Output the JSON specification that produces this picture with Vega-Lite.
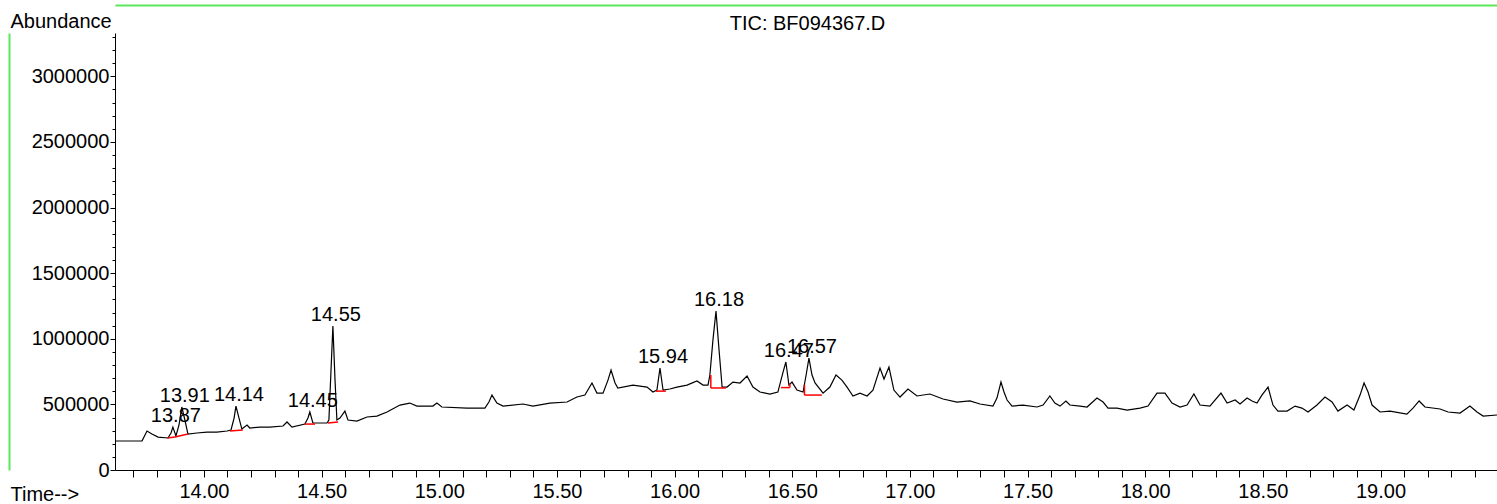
{
  "$schema": "https://vega.github.io/schema/vega-lite/v6.json",
  "width": 1382,
  "height": 437,
  "autosize": {"type": "none"},
  "padding": {"left": 115, "top": 33, "right": 0, "bottom": 34},
  "background": "white",
  "config": {
    "view": {"stroke": null},
    "axis": {"labelFont": "Liberation Sans", "labelFontSize": 20, "labelColor": "black", "titleFont": "Liberation Sans", "titleFontSize": 20, "titleFontWeight": "normal", "titleColor": "black", "domainColor": "black", "tickColor": "black", "grid": false, "labelOverlap": false, "labelFlush": false}
  },
  "datasets": {
    "trace": [
      {"t":13.622,"a":221000},{"t":13.686,"a":221000},{"t":13.737,"a":222000},{"t":13.758,"a":297000},{"t":13.779,"a":274000},{"t":13.805,"a":251000},{"t":13.847,"a":244000},{"t":13.860,"a":282000},{"t":13.868,"a":327000},{"t":13.881,"a":259000},{"t":13.894,"a":343000},{"t":13.906,"a":480000},{"t":13.919,"a":381000},{"t":13.932,"a":274000},{"t":13.970,"a":282000},{"t":14.013,"a":289000},{"t":14.055,"a":289000},{"t":14.098,"a":297000},{"t":14.115,"a":305000},{"t":14.128,"a":396000},{"t":14.136,"a":487000},{"t":14.149,"a":396000},{"t":14.161,"a":312000},{"t":14.183,"a":343000},{"t":14.195,"a":320000},{"t":14.238,"a":327000},{"t":14.280,"a":327000},{"t":14.336,"a":335000},{"t":14.353,"a":366000},{"t":14.374,"a":327000},{"t":14.429,"a":350000},{"t":14.442,"a":396000},{"t":14.450,"a":442000},{"t":14.463,"a":358000},{"t":14.493,"a":358000},{"t":14.523,"a":358000},{"t":14.531,"a":381000},{"t":14.540,"a":762000},{"t":14.548,"a":1097000},{"t":14.557,"a":685000},{"t":14.565,"a":381000},{"t":14.578,"a":396000},{"t":14.599,"a":449000},{"t":14.612,"a":381000},{"t":14.650,"a":373000},{"t":14.693,"a":404000},{"t":14.735,"a":411000},{"t":14.778,"a":442000},{"t":14.833,"a":495000},{"t":14.875,"a":510000},{"t":14.905,"a":487000},{"t":14.973,"a":487000},{"t":14.990,"a":510000},{"t":15.011,"a":480000},{"t":15.118,"a":472000},{"t":15.194,"a":472000},{"t":15.211,"a":518000},{"t":15.224,"a":571000},{"t":15.245,"a":510000},{"t":15.271,"a":487000},{"t":15.356,"a":503000},{"t":15.398,"a":487000},{"t":15.470,"a":510000},{"t":15.543,"a":518000},{"t":15.585,"a":556000},{"t":15.619,"a":571000},{"t":15.649,"a":663000},{"t":15.670,"a":586000},{"t":15.696,"a":586000},{"t":15.717,"a":685000},{"t":15.730,"a":762000},{"t":15.747,"a":663000},{"t":15.759,"a":625000},{"t":15.823,"a":647000},{"t":15.883,"a":632000},{"t":15.908,"a":594000},{"t":15.925,"a":609000},{"t":15.938,"a":777000},{"t":15.951,"a":609000},{"t":15.980,"a":617000},{"t":16.010,"a":632000},{"t":16.053,"a":647000},{"t":16.095,"a":678000},{"t":16.121,"a":647000},{"t":16.142,"a":647000},{"t":16.150,"a":724000},{"t":16.163,"a":990000},{"t":16.176,"a":1211000},{"t":16.189,"a":914000},{"t":16.202,"a":632000},{"t":16.223,"a":632000},{"t":16.248,"a":670000},{"t":16.278,"a":663000},{"t":16.308,"a":716000},{"t":16.333,"a":632000},{"t":16.363,"a":594000},{"t":16.405,"a":579000},{"t":16.439,"a":594000},{"t":16.461,"a":746000},{"t":16.473,"a":823000},{"t":16.486,"a":647000},{"t":16.499,"a":670000},{"t":16.520,"a":609000},{"t":16.546,"a":594000},{"t":16.559,"a":724000},{"t":16.571,"a":853000},{"t":16.584,"a":724000},{"t":16.597,"a":663000},{"t":16.631,"a":586000},{"t":16.660,"a":632000},{"t":16.686,"a":724000},{"t":16.711,"a":685000},{"t":16.733,"a":632000},{"t":16.758,"a":564000},{"t":16.788,"a":586000},{"t":16.818,"a":564000},{"t":16.843,"a":609000},{"t":16.873,"a":777000},{"t":16.890,"a":693000},{"t":16.911,"a":784000},{"t":16.932,"a":609000},{"t":16.958,"a":556000},{"t":16.992,"a":617000},{"t":17.030,"a":564000},{"t":17.085,"a":579000},{"t":17.141,"a":541000},{"t":17.200,"a":518000},{"t":17.255,"a":526000},{"t":17.298,"a":503000},{"t":17.353,"a":487000},{"t":17.370,"a":548000},{"t":17.387,"a":670000},{"t":17.400,"a":594000},{"t":17.413,"a":533000},{"t":17.434,"a":487000},{"t":17.481,"a":495000},{"t":17.540,"a":480000},{"t":17.566,"a":495000},{"t":17.595,"a":564000},{"t":17.616,"a":510000},{"t":17.638,"a":487000},{"t":17.663,"a":526000},{"t":17.680,"a":495000},{"t":17.723,"a":487000},{"t":17.753,"a":480000},{"t":17.795,"a":548000},{"t":17.821,"a":518000},{"t":17.842,"a":472000},{"t":17.880,"a":472000},{"t":17.923,"a":457000},{"t":17.978,"a":472000},{"t":18.012,"a":487000},{"t":18.050,"a":586000},{"t":18.084,"a":586000},{"t":18.114,"a":510000},{"t":18.148,"a":480000},{"t":18.178,"a":495000},{"t":18.207,"a":579000},{"t":18.233,"a":495000},{"t":18.275,"a":487000},{"t":18.322,"a":586000},{"t":18.348,"a":510000},{"t":18.382,"a":533000},{"t":18.403,"a":503000},{"t":18.433,"a":548000},{"t":18.454,"a":526000},{"t":18.475,"a":510000},{"t":18.496,"a":571000},{"t":18.522,"a":632000},{"t":18.543,"a":495000},{"t":18.564,"a":449000},{"t":18.603,"a":449000},{"t":18.637,"a":487000},{"t":18.666,"a":472000},{"t":18.692,"a":442000},{"t":18.730,"a":495000},{"t":18.764,"a":556000},{"t":18.794,"a":518000},{"t":18.819,"a":449000},{"t":18.858,"a":495000},{"t":18.887,"a":457000},{"t":18.913,"a":571000},{"t":18.930,"a":663000},{"t":18.947,"a":594000},{"t":18.964,"a":495000},{"t":18.998,"a":442000},{"t":19.040,"a":449000},{"t":19.112,"a":426000},{"t":19.138,"a":472000},{"t":19.164,"a":526000},{"t":19.189,"a":480000},{"t":19.253,"a":465000},{"t":19.287,"a":442000},{"t":19.338,"a":434000},{"t":19.380,"a":487000},{"t":19.410,"a":442000},{"t":19.436,"a":411000},{"t":19.495,"a":419000}
    ],
    "baselines": [
      {"t":13.845,"a":244000,"t2":13.876,"a2":251000},
      {"t":13.876,"a":251000,"t2":13.932,"a2":274000},
      {"t":14.110,"a":297000,"t2":14.165,"a2":305000},
      {"t":14.429,"a":350000,"t2":14.472,"a2":350000},
      {"t":14.527,"a":358000,"t2":14.570,"a2":366000},
      {"t":15.921,"a":601000,"t2":15.963,"a2":601000},
      {"t":16.154,"a":625000,"t2":16.218,"a2":625000},
      {"t":16.154,"a":625000,"t2":16.154,"a2":724000},
      {"t":16.452,"a":628000,"t2":16.490,"a2":628000},
      {"t":16.490,"a":628000,"t2":16.490,"a2":660000},
      {"t":16.552,"a":571000,"t2":16.626,"a2":571000},
      {"t":16.552,"a":571000,"t2":16.552,"a2":650000}
    ],
    "peaks": [
      {"t":13.868,"a":327000,"label":"13.87"},
      {"t":13.906,"a":480000,"label":"13.91"},
      {"t":14.136,"a":487000,"label":"14.14"},
      {"t":14.450,"a":442000,"label":"14.45"},
      {"t":14.548,"a":1097000,"label":"14.55"},
      {"t":15.938,"a":777000,"label":"15.94"},
      {"t":16.176,"a":1211000,"label":"16.18"},
      {"t":16.473,"a":823000,"label":"16.47"},
      {"t":16.571,"a":853000,"label":"16.57"}
    ]
  },
  "layer": [
    {
      "data": {"name": "trace"},
      "mark": {"type": "line", "color": "black", "strokeWidth": 1.2, "interpolate": "linear"},
      "encoding": {
        "x": {"field": "t", "type": "quantitative",
          "scale": {"domain": [13.622, 19.495], "nice": false, "zero": false},
          "axis": {
            "values": [13.7,13.8,13.9,14.0,14.1,14.2,14.3,14.4,14.5,14.6,14.7,14.8,14.9,15.0,15.1,15.2,15.3,15.4,15.5,15.6,15.7,15.8,15.9,16.0,16.1,16.2,16.3,16.4,16.5,16.6,16.7,16.8,16.9,17.0,17.1,17.2,17.3,17.4,17.5,17.6,17.7,17.8,17.9,18.0,18.1,18.2,18.3,18.4,18.5,18.6,18.7,18.8,18.9,19.0,19.1,19.2,19.3,19.4],
            "labelExpr": "round(datum.value*10) % 5 === 0 ? format(datum.value, '.2f') : ''",
            "tickSize": 7, "labelPadding": 4, "domainWidth": 1,
            "title": "Time-->", "titleX": -105, "titleY": 30, "titleAlign": "left", "titleBaseline": "alphabetic", "titleAnchor": null
          }
        },
        "y": {"field": "a", "type": "quantitative",
          "scale": {"domain": [0, 3330000], "nice": false},
          "axis": {
            "values": [0,100000,200000,300000,400000,500000,600000,700000,800000,900000,1000000,1100000,1200000,1300000,1400000,1500000,1600000,1700000,1800000,1900000,2000000,2100000,2200000,2300000,2400000,2500000,2600000,2700000,2800000,2900000,3000000,3100000,3200000,3300000],
            "labelExpr": "datum.value % 500000 === 0 ? format(datum.value, 'd') : ''",
            "tickSize": {"condition": {"test": "datum.value % 500000 === 0", "value": 5}, "value": 3},
            "labelPadding": 1, "domainWidth": 1,
            "title": "Abundance", "titleAngle": 0, "titleX": -105, "titleY": -6, "titleAlign": "left", "titleBaseline": "alphabetic", "titleAnchor": null
          }
        }
      }
    },
    {
      "data": {"name": "baselines"},
      "mark": {"type": "rule", "color": "#ff0000", "strokeWidth": 1.5},
      "encoding": {
        "x": {"field": "t", "type": "quantitative",
          "axis": {"orient": "top", "offset": 28, "domainColor": "#5ce65c", "domainWidth": 2, "ticks": false, "labels": false,
            "title": "TIC: BF094367.D", "titleX": 692, "titleY": 24, "titleAlign": "center", "titleBaseline": "alphabetic", "titleAnchor": null}},
        "x2": {"field": "t2"},
        "y": {"field": "a", "type": "quantitative",
          "axis": {"orient": "left", "offset": 106, "domainColor": "#5ce65c", "domainWidth": 2, "ticks": false, "labels": false, "title": null}},
        "y2": {"field": "a2"}
      }
    },
    {
      "data": {"name": "peaks"},
      "mark": {"type": "text", "font": "Liberation Sans", "fontSize": 20, "color": "black", "baseline": "alphabetic", "align": "center", "dx": 3, "dy": -5},
      "encoding": {
        "x": {"field": "t", "type": "quantitative", "axis": null},
        "y": {"field": "a", "type": "quantitative", "axis": null},
        "text": {"field": "label"}
      }
    }
  ],
  "resolve": {"axis": {"x": "independent", "y": "independent"}}
}
